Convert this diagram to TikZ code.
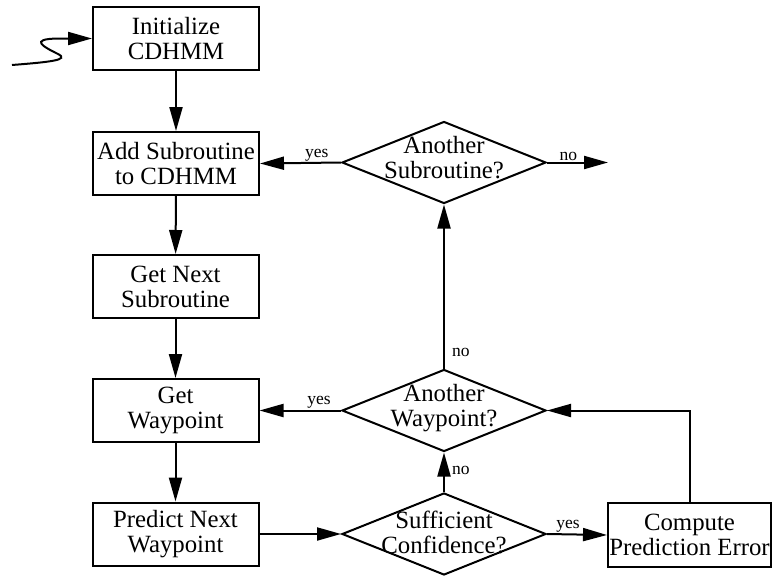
\documentclass[tikz,border=0pt]{standalone}
\usepackage{fontspec}
\setmainfont{Liberation Serif}
\usetikzlibrary{shapes.geometric,arrows.meta}
\begin{document}
\begin{tikzpicture}[x=1pt,y=-1pt,
  line width=2pt,
  >={Triangle[length=24pt,width=13pt]},
  box/.style={draw,rectangle,minimum width=166pt,minimum height=63pt,inner sep=1pt,align=center,
    font=\fontsize{24.8}{25}\selectfont},
  dia/.style={draw,diamond,minimum width=204pt,minimum height=82pt,inner sep=0pt},
  dtext/.style={align=center,font=\fontsize{24.8}{25}\selectfont,inner sep=0pt},
  lab/.style={font=\fontsize{17.5}{18}\selectfont,inner sep=1pt}]
\useasboundingbox (0,0) rectangle (772,576);
\node[box] (init) at (176,38.5) {Initialize\\CDHMM};
\node[box] (add) at (176,163.5) {Add Subroutine\\to CDHMM};
\node[box] (next) at (175.5,286.5) {Get Next\\Subroutine};
\node[box] (getw) at (175.5,410.5) {Get\\Waypoint};
\node[box] (pred) at (175.5,534) {Predict Next\\Waypoint};
\node[box,minimum width=163pt,minimum height=64pt] (comp) at (689.5,535) {Compute\\Prediction Error};
\node[dia] (asub) at (444,162.5) {};
\node[dtext] (asubt) at (444,158) {Another\\Subroutine?};
\node[dia] (away) at (444,410.5) {};
\node[dtext] (awayt) at (444,408) {Another\\Waypoint?};
\node[dia] (suff) at (444,534) {};
\node[dtext] (sufft) at (444,532) {Sufficient\\Confidence?};
\coordinate (s) at (12,65);
\coordinate (noend) at (608,162.5);
\draw[->] (s) .. controls (50,62) and (70,60) .. (58,54) .. controls (44,47) and (28,39) .. (58,38.5) -- (init.west);
\draw[->] (init) -- (add);
\draw[->] (add) -- (next);
\draw[->] (next) -- (getw);
\draw[->] (getw) -- (pred);
\draw[->] (pred) -- (suff.west);
\draw[->] (suff.east) -- node[lab,above,pos=0.35] {yes} (comp.west);
\draw[->] (suff.north) -- node[lab,right,xshift=6pt,yshift=2pt] {no} (away.south);
\draw[->] (comp.north) |- (away.east);
\draw[->] (away.west) -- node[lab,above,pos=0.27] {yes} (getw.east);
\draw[->] (away.north) -- node[lab,right,xshift=6pt,pos=0.1] {no} (asub.south);
\draw[->] (asub.west) -- node[lab,above,pos=0.3] {yes} (add.east);
\draw[->] (asub.east) -- node[lab,above,pos=0.35] {no} (noend);
\end{tikzpicture}
\end{document}
